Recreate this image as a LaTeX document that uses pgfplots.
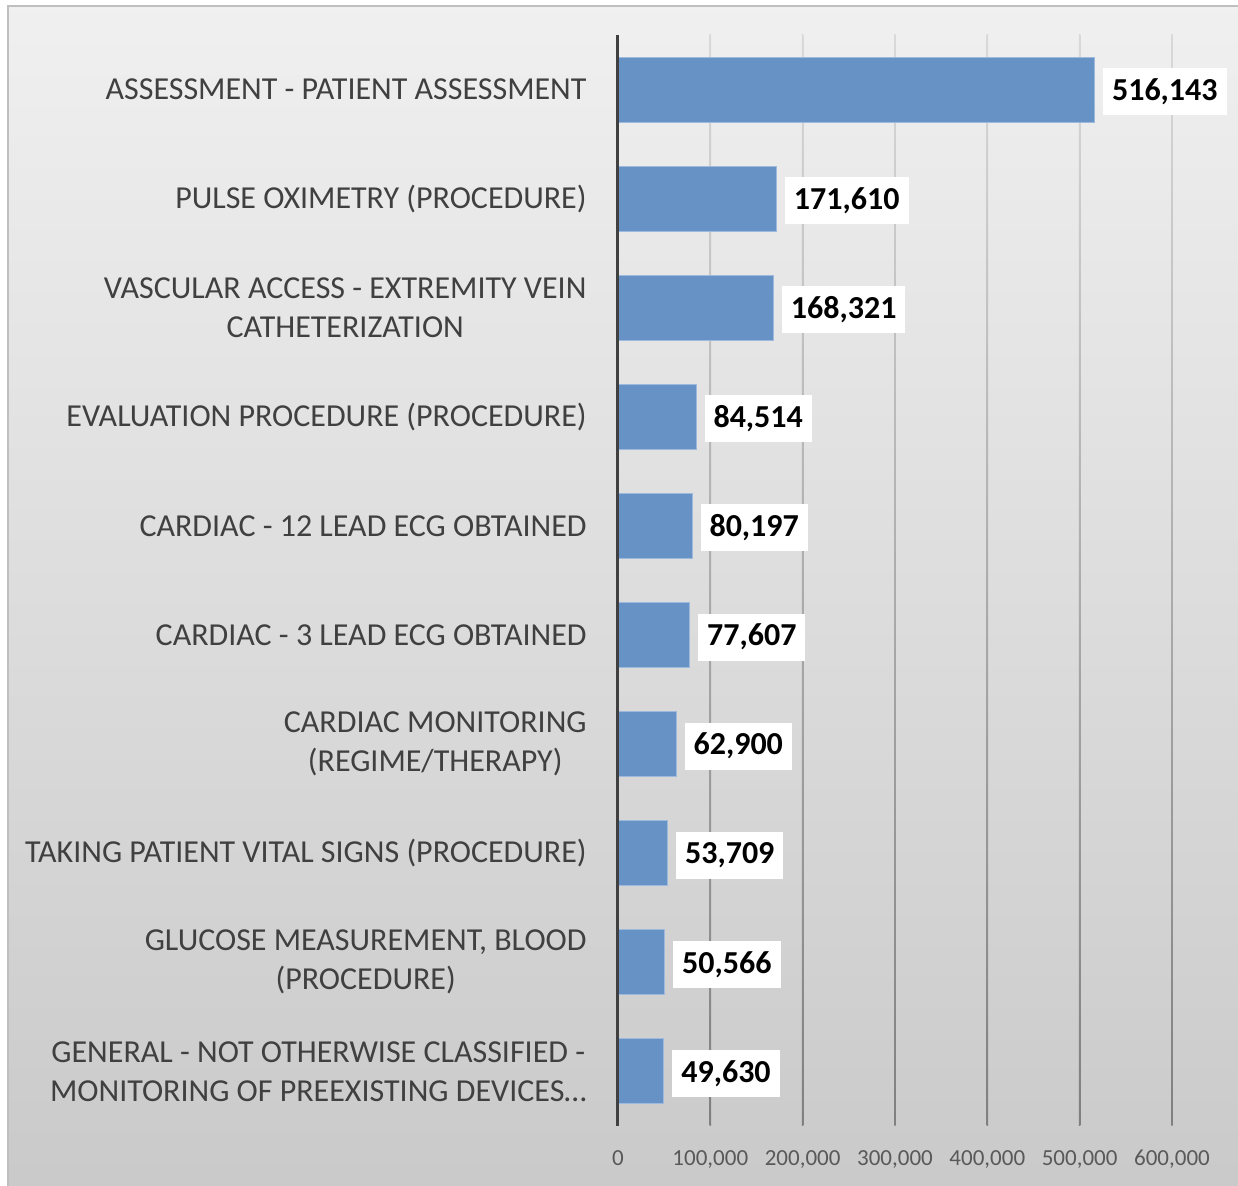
\documentclass[border=0pt]{standalone}
\usepackage{pgfplots}
\pgfplotsset{compat=1.18}
\usepackage{pgfplotstable}
\usepackage{fontspec}
\setmainfont{Carlito}

\definecolor{barblue}{HTML}{6692C6}
\definecolor{baredge}{HTML}{9DB9DE}
\definecolor{catgray}{HTML}{404040}
\definecolor{tickgray}{HTML}{595959}
\definecolor{framegray}{HTML}{BFBFBF}

% y = 0 is the bottom category
\pgfplotstableread{
y x      label
0 49630  49,630
1 50566  50,566
2 53709  53,709
3 62900  62,900
4 77607  77,607
5 80197  80,197
6 84514  84,514
7 168321 168,321
8 171610 171,610
9 516143 516,143
}\procs

\begin{document}
\begin{tikzpicture}
\useasboundingbox (0,0) rectangle (619pt,593pt);
\shade[top color=black!6, bottom color=black!21, draw=framegray, line width=1pt]
  (4pt,-5pt) rectangle (625pt,590pt);
\begin{axis}[
    at={(309pt,30pt)}, anchor=south west,
    scale only axis, width=277pt, height=545.5pt,
    xbar, bar width=32.5pt,
    xmin=0, xmax=600000, ymin=-0.5, ymax=9.5,
    clip=false,
    axis line style={draw=none},
    major tick length=0pt,
    xtick={0,100000,200000,300000,400000,500000,600000},
    scaled x ticks=false,
    /pgf/number format/fixed,
    /pgf/number format/precision=0,
    /pgf/number format/1000 sep={,},
    /pgf/number format/assume math mode=true,
    ytick={0,...,9},
    yticklabels={
      {GENERAL - NOT OTHERWISE CLASSIFIED -\\MONITORING OF PREEXISTING DEVICES…},
      {GLUCOSE MEASUREMENT, BLOOD\\(PROCEDURE)},
      {TAKING PATIENT VITAL SIGNS (PROCEDURE)},
      {CARDIAC MONITORING\\(REGIME/THERAPY)},
      {CARDIAC - 3 LEAD ECG OBTAINED},
      {CARDIAC - 12 LEAD ECG OBTAINED},
      {EVALUATION PROCEDURE (PROCEDURE)},
      {VASCULAR ACCESS - EXTREMITY VEIN\\CATHETERIZATION},
      {PULSE OXIMETRY (PROCEDURE)},
      {ASSESSMENT - PATIENT ASSESSMENT}},
    yticklabel style={font=\fontsize{16}{19.5}\selectfont, text=catgray,
      align=center, inner sep=0pt},
    yticklabel shift=15.5pt,
    xticklabel style={font=\fontsize{11.5}{14}\selectfont, text=tickgray,
      inner sep=0pt},
    xticklabel shift=12pt,
    point meta=explicit symbolic,
    nodes near coords={\pgfplotspointmeta},
    nodes near coords style={fill=white, text=black,
      font=\bfseries\fontsize{16}{18}\selectfont,
      inner xsep=4.5pt, minimum height=23.5pt, anchor=west, xshift=4pt,
      yshift=-1pt},
]
\pgfplotsinvokeforeach{100000,200000,300000,400000,500000,600000}{
  \shade[top color=black!15, bottom color=black!50]
    ([xshift=-0.35pt]axis cs:#1,-0.5) rectangle ([xshift=0.35pt]axis cs:#1,9.5);
}
\addplot[fill=barblue, draw=baredge, line width=0.5pt]
  table[x=x, y=y, meta=label]{\procs};
\draw[black!75, line width=1.5pt] (axis cs:0,-0.5) -- (axis cs:0,9.5);
\end{axis}
\end{tikzpicture}
\end{document}
